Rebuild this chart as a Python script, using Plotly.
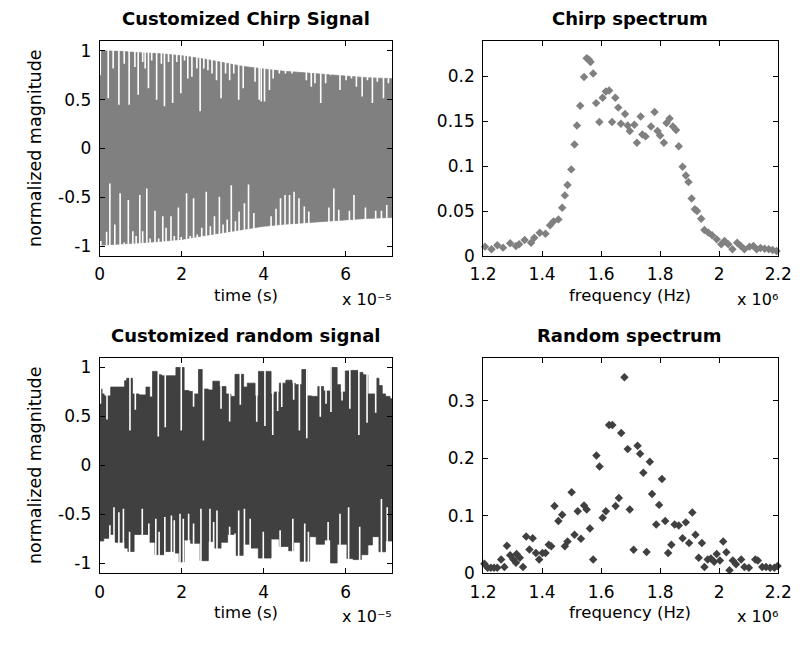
import plotly.graph_objects as go

# ---------------- data ----------------
# time in units of 1e-5 s, frequency in units of 1e6 Hz
chirp_env_t = [0, 0.5, 1, 1.5, 2, 2.5, 3, 3.5, 4, 4.5, 5, 5.5, 6, 6.5, 7.13]
chirp_upper = [1.0, 0.995, 0.98, 0.97, 0.95, 0.92, 0.88, 0.84, 0.815, 0.79, 0.775, 0.76, 0.74, 0.725, 0.715]
chirp_lower = [-0.99, -0.98, -0.965, -0.95, -0.93, -0.895, -0.86, -0.83, -0.795, -0.775, -0.76, -0.745, -0.73, -0.715, -0.705]

chirp_top_gap_t = [0.015, 0.21, 0.33, 0.47, 0.60, 0.72, 0.86, 0.94, 1.05, 1.11, 1.19, 1.27, 1.39, 1.505, 1.58, 1.68, 1.78,
                   1.88, 1.98, 2.07, 2.15, 2.25, 2.37, 2.45, 2.54, 2.64, 2.74, 2.85, 2.96, 3.07, 3.17, 3.27, 3.39, 3.5,
                   3.79, 3.89, 3.94, 4.02, 4.14, 4.23, 4.38, 4.53, 4.69, 5.04, 5.16, 5.25, 5.39, 5.51, 5.63, 5.86,
                   6.01, 6.14, 6.26, 6.40, 6.53, 6.65, 6.77, 6.92, 7.04]
chirp_top_gap_v = [0.751, 0.515, 0.818, 0.449, 0.868, 0.449, 0.835, 0.55, 0.885, 0.818, 0.616, 0.902, 0.499, 0.868, 0.432,
                   0.885, 0.466, 0.885, 0.566, 0.902, 0.717, 0.734, 0.818, 0.381, 0.818, 0.80, 0.768, 0.70, 0.515, 0.768,
                   0.70, 0.768, 0.499, 0.616,
                   0.684, 0.499, 0.482, 0.482, 0.60, 0.717, 0.768, 0.768, 0.768, 0.70, 0.633, 0.667, 0.466, 0.667, 0.751,
                   0.60, 0.70, 0.717, 0.633, 0.532, 0.70, 0.466, 0.684, 0.515, 0.667]
chirp_bot_gap_t = [0.03, 0.17, 0.25, 0.37, 0.50, 0.60, 0.70, 0.81, 0.89, 0.98, 1.05, 1.15, 1.23, 1.35, 1.44, 1.54, 1.62,
                   1.74, 1.82, 1.92, 1.99, 2.12, 2.21, 2.29, 2.38, 2.49, 2.60, 2.70, 2.80, 2.92, 3.01, 3.11, 3.21, 3.31,
                   3.40, 3.53, 3.63, 3.76, 4.18, 4.30, 4.41, 4.52, 4.63, 4.74, 4.86, 4.99, 5.10, 5.59, 5.71, 5.83, 6.09,
                   6.20, 6.48, 6.73, 6.87, 7.00]
chirp_bot_gap_v = [-0.946, -0.852, -0.358, -0.778, -0.459, -0.963, -0.526, -0.846, -0.896, -0.476, -0.846, -0.408, -0.92,
                   -0.637, -0.92, -0.694, -0.811, -0.694, -0.896, -0.603, -0.906, -0.459, -0.896, -0.509, -0.879, -0.811,
                   -0.442, -0.795, -0.694, -0.493, -0.778, -0.727, -0.375, -0.744, -0.644, -0.56, -0.368, -0.66, -0.694,
                   -0.617, -0.509, -0.476, -0.476, -0.442, -0.509, -0.594, -0.644, -0.603, -0.408, -0.627, -0.637,
                   -0.476, -0.603, -0.637, -0.637, -0.577]

rand_up_t = [0, 0.06, 0.11, 0.27, 0.61, 0.66, 0.80, 0.96, 1.13, 1.22, 1.29, 1.43, 1.51, 1.86, 2.06, 2.18, 2.28, 2.41, 2.53,
             2.65, 2.76, 2.92, 3.08, 3.2, 3.3, 3.51, 3.60, 3.79, 3.87, 4.18, 4.26, 4.38, 4.54, 4.69, 4.77, 4.93, 5.05,
             5.17, 5.32, 5.46, 5.63, 5.79, 5.87, 5.99, 6.11, 6.30, 6.42, 6.54, 6.73, 6.81, 6.89, 6.97, 7.08]
rand_up_v = [0.78, 0.73, 0.71, 0.80, 0.865, 0.89, 0.73, 0.72, 0.80, 0.70, 0.96, 0.925, 0.915, 1.0, 0.765, 0.755, 0.73,
             0.98, 0.78, 0.77, 0.86, 0.805, 0.73, 0.705, 0.93, 0.80, 0.84, 0.71, 0.96, 0.73, 0.75, 0.84, 0.87, 0.84,
             0.825, 0.98, 0.71, 0.705, 0.805, 0.76, 1.0, 0.825, 0.75, 0.965, 0.97, 0.95, 0.925, 0.73, 0.89, 0.815,
             0.73, 0.705, 0.68]
rand_lo_t = [0, 0.10, 0.25, 0.37, 0.61, 0.69, 0.84, 1.2, 1.35, 1.59, 1.82, 1.94, 2.06, 2.22, 2.45, 2.65, 2.80, 2.96,
             3.12, 3.31, 3.51, 3.67, 3.87, 4.18, 4.38, 4.61, 4.73, 4.89, 5.12, 5.28, 5.48, 5.63, 5.79, 6.03, 6.18,
             6.38, 6.54, 6.65, 6.81, 6.97]
rand_lo_v = [-0.77, -0.743, -0.703, -0.783, -0.843, -0.877, -0.703, -0.783, -0.91, -0.877, -0.893, -0.984, -0.76,
             -0.793, -0.971, -0.776, -0.843, -0.783, -0.703, -0.917, -0.803, -0.843, -0.944, -0.75, -0.826, -0.87,
             -0.783, -0.977, -0.726, -0.803, -0.76, -0.994, -0.803, -0.95, -0.96, -0.91, -0.81, -0.726, -0.88, -0.77]
rand_top_gap_t = [0.02, 0.18, 0.74, 0.87, 1.43, 1.60, 1.99, 2.29, 2.53, 2.96, 3.17, 3.43, 3.83, 4.03, 4.22, 4.34, 4.44,
                  4.73, 4.87, 5.05, 5.38, 5.52, 5.64, 5.91, 6.10, 6.32, 6.52, 6.73]
rand_top_gap_v = [0.631, 0.47, 0.356, 0.57, 0.296, 0.389, 0.356, 0.60, 0.256, 0.58, 0.45, 0.62, 0.447, 0.403, 0.312,
                  0.557, 0.597, 0.671, 0.356, 0.279, 0.497, 0.631, 0.547, 0.664, 0.58, 0.312, 0.436, 0.537]
rand_bot_gap_t = [0.25, 0.35, 0.47, 0.58, 0.73, 1.04, 1.2, 1.37, 1.45, 1.59, 1.75, 1.82, 1.96, 2.04, 2.17, 2.29, 2.47,
                  2.69, 2.78, 2.86, 3.17, 3.30, 3.39, 3.53, 3.67, 3.99, 4.40, 4.71, 5.0, 5.09, 5.57, 5.86, 6.07, 6.34,
                  6.87, 7.01]
rand_bot_gap_v = [-0.61, -0.425, -0.476, -0.442, -0.676, -0.442, -0.593, -0.543, -0.676, -0.526, -0.509, -0.559,
                  -0.492, -0.543, -0.492, -0.593, -0.442, -0.442, -0.576, -0.459, -0.626, -0.693, -0.459, -0.442,
                  -0.543, -0.676, -0.66, -0.543, -0.593, -0.676, -0.576, -0.492, -0.425, -0.626, -0.342, -0.425]

chirp_f = [1.2065, 1.2284, 1.248, 1.2676, 1.2916, 1.3112, 1.322, 1.3407, 1.3625, 1.3734, 1.3919, 1.4115, 1.4268, 1.4388,
           1.4552, 1.468, 1.477, 1.486, 1.4988, 1.5097, 1.518, 1.529, 1.542, 1.551, 1.558, 1.564, 1.573, 1.583, 1.594,
           1.605, 1.616, 1.627, 1.637, 1.648, 1.658, 1.667, 1.681, 1.69, 1.697, 1.7126, 1.7212, 1.734, 1.7397, 1.7506,
           1.769, 1.781, 1.791, 1.7997, 1.8127, 1.8215, 1.832, 1.8434, 1.854, 1.863, 1.876, 1.887, 1.896, 1.9066,
           1.9175, 1.925, 1.939, 1.950, 1.963, 1.976, 1.9916, 2.007, 2.018, 2.031, 2.045, 2.061, 2.0725, 2.0855, 2.103,
           2.116, 2.127, 2.140, 2.154, 2.168, 2.181, 2.1945]
chirp_mag = [0.0104, 0.0074, 0.0119, 0.0093, 0.0141, 0.0111, 0.013, 0.0178, 0.0148, 0.0204, 0.0259, 0.0248, 0.0341,
             0.0385, 0.0407, 0.0537, 0.0674, 0.0789, 0.0963, 0.124, 0.145, 0.167, 0.199, 0.220, 0.2185, 0.2156, 0.203,
             0.170, 0.149, 0.176, 0.183, 0.184, 0.149, 0.176, 0.165, 0.147, 0.158, 0.145, 0.139, 0.146, 0.126, 0.155,
             0.135, 0.133, 0.144, 0.16, 0.139, 0.134, 0.126, 0.148, 0.153, 0.144, 0.14, 0.122, 0.0993, 0.0896, 0.0822,
             0.064, 0.0519, 0.05, 0.0415, 0.0289, 0.026, 0.023, 0.0185, 0.013, 0.0167, 0.013, 0.0074, 0.0148, 0.0115,
             0.0074, 0.0104, 0.011, 0.0074, 0.009, 0.0081, 0.0074, 0.0067, 0.0056]

rand_f = [1.2043, 1.2153, 1.2262, 1.237, 1.248, 1.2611, 1.272, 1.2807, 1.2916, 1.3025, 1.3112, 1.3134, 1.3243, 1.3352,
          1.346, 1.357, 1.368, 1.379, 1.39, 1.401, 1.4115, 1.4224, 1.431, 1.442, 1.455, 1.468, 1.477, 1.486, 1.5,
          1.5097, 1.5206, 1.5315, 1.542, 1.551, 1.562, 1.573, 1.584, 1.5945, 1.605, 1.616, 1.627, 1.638, 1.649, 1.66,
          1.668, 1.679, 1.69, 1.697, 1.710, 1.7234, 1.732, 1.743, 1.754, 1.765, 1.7725, 1.7866, 1.7964, 1.806, 1.817,
          1.827, 1.838, 1.849, 1.863, 1.876, 1.887, 1.898, 1.909, 1.9197, 1.9306, 1.9415, 1.950, 1.961, 1.972, 1.983,
          1.9916, 2.0025, 2.0135, 2.0243, 2.035, 2.0462, 2.057, 2.0745, 2.0855, 2.1006, 2.1225, 2.131, 2.146, 2.159,
          2.1727, 2.187, 2.198]
rand_mag = [0.0166, 0.0098, 0.0098, 0.0098, 0.0098, 0.0241, 0.011, 0.048, 0.0315, 0.024, 0.0183, 0.0337, 0.0269, 0.011,
            0.064, 0.0413, 0.0611, 0.0355, 0.024, 0.0355, 0.0355, 0.0498, 0.0469, 0.117, 0.0909, 0.102, 0.0469, 0.0555,
            0.141, 0.067, 0.108, 0.060, 0.118, 0.111, 0.078, 0.024, 0.205, 0.1856, 0.0966, 0.108, 0.258, 0.258, 0.117,
            0.131, 0.244, 0.341, 0.216, 0.111, 0.041, 0.222, 0.208, 0.175, 0.037, 0.194, 0.138, 0.085, 0.119, 0.164,
            0.091, 0.0355, 0.0498, 0.085, 0.083, 0.0611, 0.0886, 0.0526, 0.1057, 0.067, 0.027, 0.0526, 0.011, 0.024,
            0.0258, 0.020, 0.0337, 0.0224, 0.0555, 0.0366, 0.0053, 0.0224, 0.0156, 0.024, 0.011, 0.0098, 0.024, 0.0224,
            0.011, 0.011, 0.0098, 0.0098, 0.0127]

time_ticks = [0, 2, 4, 6]
mag_ticks = [-1, -0.5, 0, 0.5, 1]
mag_tick_text = ["-1", "-0.5", "0", "0.5", "1"]
freq_ticks = [1.2, 1.4, 1.6, 1.8, 2.0, 2.2]
freq_tick_text = ["1.2", "1.4", "1.6", "1.8", "2", "2.2"]
chirp_spec_ticks = [0, 0.05, 0.1, 0.15, 0.2]
chirp_spec_text = ["0", "0.05", "0.1", "0.15", "0.2"]
rand_spec_ticks = [0, 0.1, 0.2, 0.3]
rand_spec_text = ["0", "0.1", "0.2", "0.3"]

# ---------------- styling ----------------
W, H = 806, 648
T_MAX = 7.13
GRAY = "#808080"
DARK = "#404040"
FONT = "DejaVu Sans"


def px(x):
    return x / W


def py(y):
    return 1 - y / H


def gap_segments(ts, vs, edge):
    xs, ys = [], []
    for t, v in zip(ts, vs):
        xs += [t, t, None]
        ys += [edge, v, None]
    return xs, ys


fig = go.Figure()


def signal(xa, ya, up_t, up_v, lo_t, lo_v, color, shape, top_t, top_v, bot_t, bot_v):
    ux, uy = list(up_t), list(up_v)
    lx, ly = list(lo_t), list(lo_v)
    if ux[-1] < T_MAX:
        ux.append(T_MAX); uy.append(uy[-1])
    if lx[-1] < T_MAX:
        lx.append(T_MAX); ly.append(ly[-1])
    fig.add_trace(go.Scatter(x=ux, y=uy, mode="lines", line=dict(width=0.8, color=color, shape=shape),
                             xaxis=xa, yaxis=ya, hoverinfo="skip", showlegend=False))
    fig.add_trace(go.Scatter(x=lx, y=ly, mode="lines", fill="tonexty", fillcolor=color,
                             line=dict(width=0.8, color=color, shape=shape),
                             xaxis=xa, yaxis=ya, hoverinfo="skip", showlegend=False))
    for ts, vs, edge in ((top_t, top_v, 1.1), (bot_t, bot_v, -1.1)):
        gx, gy = gap_segments(ts, vs, edge)
        fig.add_trace(go.Scatter(x=gx, y=gy, mode="lines", line=dict(width=1.6, color="white"),
                                 xaxis=xa, yaxis=ya, hoverinfo="skip", showlegend=False))


signal("x", "y", chirp_env_t, chirp_upper, chirp_env_t, chirp_lower, GRAY, "linear",
       chirp_top_gap_t, chirp_top_gap_v, chirp_bot_gap_t, chirp_bot_gap_v)
signal("x3", "y3", rand_up_t, rand_up_v, rand_lo_t, rand_lo_v, DARK, "hv",
       rand_top_gap_t, rand_top_gap_v, rand_bot_gap_t, rand_bot_gap_v)

fig.add_trace(go.Scatter(x=chirp_f, y=chirp_mag, mode="markers", cliponaxis=False,
                         marker=dict(symbol="diamond", size=6.5, color=GRAY, line=dict(width=0)),
                         xaxis="x2", yaxis="y2", showlegend=False))
fig.add_trace(go.Scatter(x=rand_f, y=rand_mag, mode="markers", cliponaxis=False,
                         marker=dict(symbol="diamond", size=6.5, color=DARK, line=dict(width=0)),
                         xaxis="x4", yaxis="y4", showlegend=False))

axis_common = dict(showline=True, linecolor="black", linewidth=1, mirror="ticks", ticks="inside",
                   ticklen=5, tickcolor="black", showgrid=False, zeroline=False,
                   tickfont=dict(family=FONT, size=17, color="black"), fixedrange=True)
xa_common = dict(ticklabelstandoff=3, **axis_common)
ya_common = dict(ticklabelstandoff=4, **axis_common)

L_DOM = [px(88.7), px(391.7)]
R_DOM = [px(486), px(791.7)]
T_DOM = [py(260), py(41.7)]
B_DOM = [py(582.3), py(363.3)]

fig.update_layout(
    width=W, height=H, autosize=False,
    margin=dict(l=0, r=0, t=0, b=0),
    paper_bgcolor="white", plot_bgcolor="white",
    showlegend=False,
    xaxis=dict(domain=L_DOM, range=[0, T_MAX], tickvals=time_ticks, anchor="y", **xa_common),
    yaxis=dict(domain=T_DOM, range=[-1.1, 1.1], tickvals=mag_ticks, ticktext=mag_tick_text, anchor="x", **ya_common),
    xaxis2=dict(domain=R_DOM, range=[1.2, 2.2], tickvals=freq_ticks, ticktext=freq_tick_text, anchor="y2", **xa_common),
    yaxis2=dict(domain=T_DOM, range=[0, 0.239], tickvals=chirp_spec_ticks, ticktext=chirp_spec_text, anchor="x2", **ya_common),
    xaxis3=dict(domain=L_DOM, range=[0, T_MAX], tickvals=time_ticks, anchor="y3", **xa_common),
    yaxis3=dict(domain=B_DOM, range=[-1.1, 1.1], tickvals=mag_ticks, ticktext=mag_tick_text, anchor="x3", **ya_common),
    xaxis4=dict(domain=R_DOM, range=[1.2, 2.2], tickvals=freq_ticks, ticktext=freq_tick_text, anchor="y4", **xa_common),
    yaxis4=dict(domain=B_DOM, range=[0, 0.375], tickvals=rand_spec_ticks, ticktext=rand_spec_text, anchor="x4", **ya_common),
)

ann = []


def note(text, x, y, size=17, bold=False, xanchor="center", angle=0):
    ann.append(dict(text=f"<b>{text}</b>" if bold else text, x=px(x), y=py(y), xref="paper", yref="paper",
                    xanchor=xanchor, yanchor="middle", showarrow=False, textangle=angle,
                    font=dict(family=FONT, size=size, color="black")))


note("Customized Chirp Signal", 240, 19, size=18, bold=True)
note("Chirp spectrum", 638, 19, size=18, bold=True)
note("Customized random signal", 240, 341, size=18, bold=True)
note("Random spectrum", 638, 341, size=18, bold=True)
note("time (s)", 240, 300, size=16.5)
note("time (s)", 240, 622, size=16.5)
note("frequency (Hz)", 638, 300, size=16.5)
note("frequency (Hz)", 638, 622, size=16.5)
note("normalized magnitude", 21, 151, size=17.5, angle=-90)
note("normalized magnitude", 21, 473, size=17.5, angle=-90)
note("x 10\u207b\u2075", 394, 304, size=16, xanchor="right")
note("x 10\u207b\u2075", 394, 626, size=16, xanchor="right")
note("x 10\u2076", 794, 304, size=16, xanchor="right")
note("x 10\u2076", 794, 626, size=16, xanchor="right")
fig.update_layout(annotations=ann)

fig.write_html("out.html")
